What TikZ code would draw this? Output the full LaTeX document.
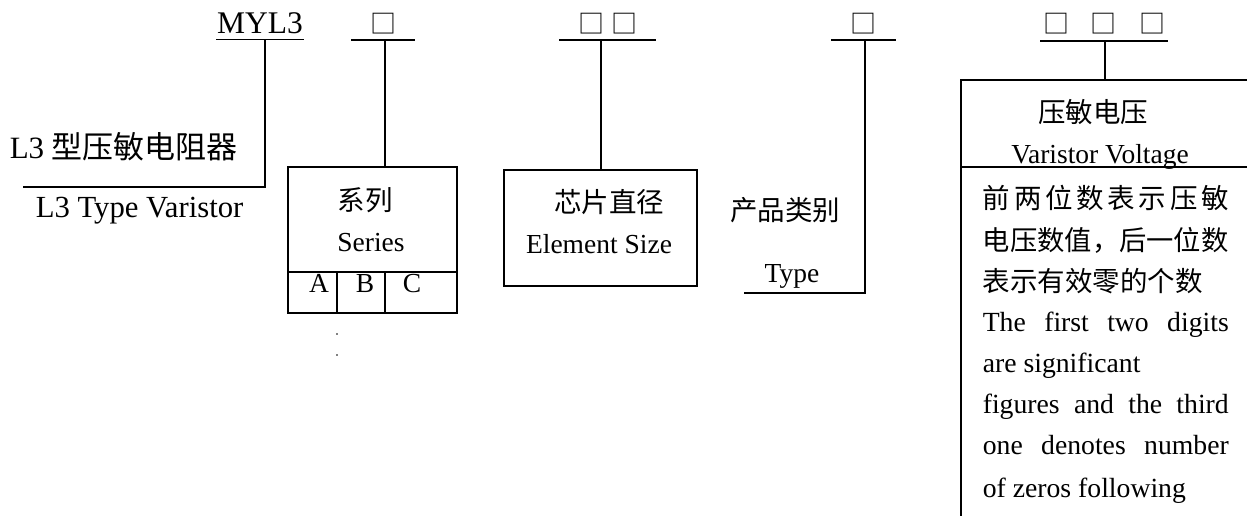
\documentclass[tikz,border=0pt]{standalone}
\usepackage{fontspec}
\setmainfont{Liberation Serif}
\newfontfamily\cjk{Noto Sans CJK SC}
\begin{document}
\begin{tikzpicture}[x=1pt,y=-1pt,line width=1.6pt,
  lbl/.style={inner sep=0pt,anchor=base,font=\fontsize{27.5}{33}\selectfont},
  big/.style={inner sep=0pt,anchor=base west,font=\fontsize{31}{36}\selectfont},
  sq/.style={inner sep=0pt,anchor=center,font=\cjk\fontsize{26}{30}\selectfont},
  boxn/.style={draw,inner sep=0pt,outer sep=0pt,line width=1.6pt},
  para/.style={inner sep=0pt,anchor=base west,font=\fontsize{27.7}{33}\selectfont}]
\useasboundingbox (0,0) rectangle (1247,515);

% ---- code letters ----
\node[inner sep=0pt,anchor=base,font=\fontsize{31.5}{36}\selectfont] (myl3) at (260,33) {MYL3};
\node[sq] (s1) at (383,23.5) {□};
\node[sq] (s2a) at (591,23.5) {□};
\node[sq] (s2b) at (624,23.5) {□};
\node[sq] (s3) at (863,23.5) {□};
\node[sq] (s4a) at (1056,23.5) {□};
\node[sq] (s4b) at (1103,23.5) {□};
\node[sq] (s4c) at (1152,23.5) {□};

% ---- underlines ----
\coordinate (u1a) at (216,39.5); \coordinate (u1b) at (304,39.5);
\coordinate (u2a) at (351,40);   \coordinate (u2b) at (415,40);
\coordinate (u3a) at (559,40);   \coordinate (u3b) at (656,40);
\coordinate (u4a) at (831,40);   \coordinate (u4b) at (896,40);
\coordinate (u5a) at (1040,41);  \coordinate (u5b) at (1168,41);
\draw (u1a) -- (u1b);
\draw (u2a) -- (u2b);
\draw (u3a) -- (u3b);
\draw (u4a) -- (u4b);
\draw (u5a) -- (u5b);

% ---- MYL3 branch ----
\coordinate (m1) at (265,39.5);
\coordinate (m2) at (265,187);
\coordinate (m3) at (23,187);
\draw (m1) -- (m2) -- (m3);
\node[big] (l3cn) at (9,158) {L3 {\cjk 型压敏电阻器}};
\node[big,font=\fontsize{30.7}{36}\selectfont] (l3en) at (35,217) {L3 Type Varistor};

% ---- Series box ----
\node[boxn,minimum width=169pt,minimum height=105pt] (series) at (372.5,219.5) {};
\node[boxn,minimum width=49pt,minimum height=41pt] (ca) at (312.5,292.5) {};
\node[boxn,minimum width=48pt,minimum height=41pt] (cb) at (361,292.5) {};
\node[boxn,minimum width=72pt,minimum height=41pt] (cc) at (421,292.5) {};
\coordinate (sv) at (385,40);
\draw (sv) -- (sv |- series.north);
\node[lbl,font=\cjk\fontsize{27.5}{33}\selectfont] (sercn) at (365,210.5) {系列};
\node[lbl] (seren) at (371,251) {Series};
\node[lbl] (la) at (319,292) {A};
\node[lbl] (lb) at (365,292) {B};
\node[lbl] (lc) at (412,292) {C};
\fill (337,334) circle (0.9pt);
\fill (337,355) circle (0.9pt);

% ---- Element size box ----
\node[boxn,minimum width=193pt,minimum height=116pt] (elem) at (600.5,228) {};
\coordinate (ev) at (601,40);
\draw (ev) -- (ev |- elem.north);
\node[lbl,font=\cjk\fontsize{27.5}{33}\selectfont] (elcn) at (609,212.5) {芯片直径};
\node[lbl] (elen) at (599,253) {Element Size};

% ---- Type branch ----
\coordinate (t1) at (865,40);
\coordinate (t2) at (865,293);
\coordinate (t3) at (744,293);
\draw (t1) -- (t2) -- (t3);
\node[lbl,font=\cjk\fontsize{27.5}{33}\selectfont] (tycn) at (785,220.5) {产品类别};
\node[lbl] (tyen) at (792,282) {Type};

% ---- Varistor voltage box ----
\coordinate (v1) at (1105,41);
\coordinate (v2) at (1105,80);
\draw (v1) -- (v2);
\coordinate (bl) at (961,80);
\coordinate (br) at (1250,80);
\coordinate (bb) at (961,520);
\coordinate (dl) at (961,167);
\coordinate (dr) at (1250,167);
\draw (br) -- (bl) -- (bb);
\draw (dl) -- (dr);
\node[lbl,font=\cjk\fontsize{27.5}{33}\selectfont] (vvcn) at (1093,122.5) {压敏电压};
\node[lbl] (vven) at (1100,163) {Varistor Voltage};

\node[para,font=\cjk\fontsize{27.5}{33}\selectfont] (p1) at (982,208)
  {\makebox[246pt][s]{前\hfill 两\hfill 位\hfill 数\hfill 表\hfill 示\hfill 压\hfill 敏}};
\node[para,font=\cjk\fontsize{27.3}{33}\selectfont] (p2) at (982,250) {电压数值，后一位数};
\node[para,font=\cjk\fontsize{27.5}{33}\selectfont] (p3) at (982,291) {表示有效零的个数};
\node[para] (p4) at (982,331) {\makebox[246pt][s]{The first two digits}};
\node[para] (p5) at (982,372) {are significant};
\node[para] (p6) at (982,413) {\makebox[246pt][s]{figures and the third}};
\node[para] (p7) at (982,454) {\makebox[246pt][s]{one denotes number}};
\node[para] (p8) at (982,497) {of zeros following};
\end{tikzpicture}
\end{document}
